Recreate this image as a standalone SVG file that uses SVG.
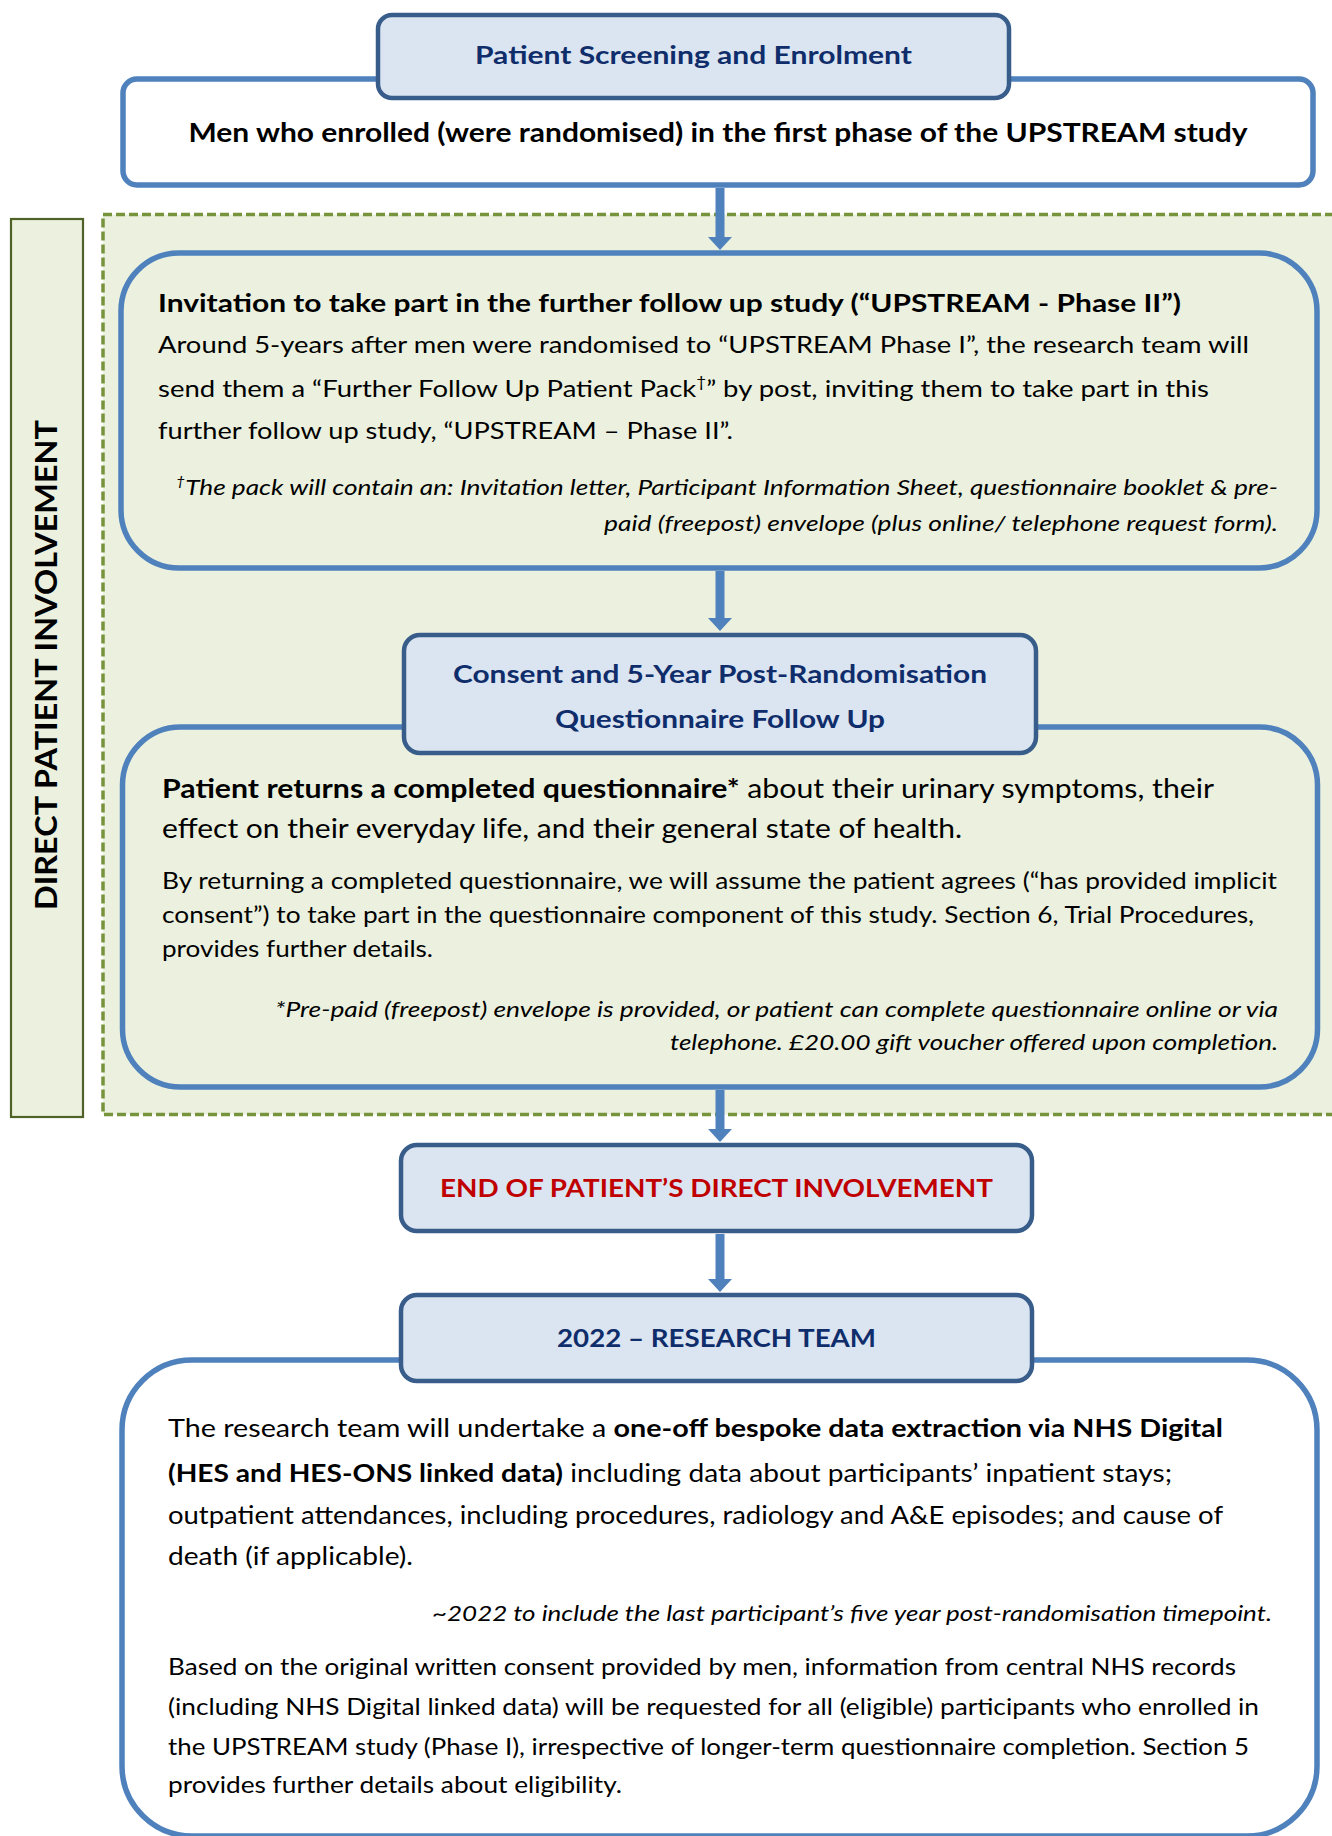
<svg xmlns="http://www.w3.org/2000/svg" width="1332" height="1836" viewBox="0 0 1332 1836">
<defs>
<style>
text{font-family:Lato,"Open Sans","Liberation Sans",sans-serif;fill:#000}
.hdr{fill:#dbe5f1;stroke:#385d8a;stroke-width:4.5}
.main{stroke:#4f81bd;stroke-width:5.5}
.white{fill:#fff}
.green{fill:#ebf1de}
.ht{font-weight:700;fill:#0f2d6b;text-anchor:middle}
.b{font-weight:700}
.it{font-style:italic;text-anchor:end}
.conn{stroke:#4f81bd;stroke-width:9;fill:none}
</style>
<marker id="ah" markerUnits="userSpaceOnUse" viewBox="0 0 13 24" refX="0" refY="12" markerWidth="13" markerHeight="24" orient="auto">
<path d="M0,0 L13,12 L0,24 z" fill="#4f81bd"/>
</marker>
</defs>

<g id="region">
<rect x="103" y="214.5" width="1245" height="900" fill="#ebf1de" stroke="#77933c" stroke-width="3.5" stroke-dasharray="9 4"/>
</g>

<g id="label">
<rect x="11" y="219" width="72" height="898" fill="#ebf1de" stroke="#4f6228" stroke-width="2.2"/>
<text x="57" y="665" transform="rotate(-90 57 665)" text-anchor="middle" font-size="31" font-weight="700" fill="#111" textLength="490" lengthAdjust="spacingAndGlyphs">DIRECT PATIENT INVOLVEMENT</text>
</g>

<g id="enrolment">
<rect class="main white" x="123" y="79" width="1190" height="106" rx="14"/>
<text x="718" y="142" text-anchor="middle" class="b" font-size="26" textLength="1059" lengthAdjust="spacingAndGlyphs">Men who enrolled (were randomised) in the first phase of the UPSTREAM study</text>
<rect class="hdr" x="378" y="15" width="631" height="83" rx="14"/>
<text x="693.5" y="64" class="ht" font-size="24" textLength="437" lengthAdjust="spacingAndGlyphs">Patient Screening and Enrolment</text>
</g>

<g id="invitation">
<rect class="main green" x="121" y="253" width="1196" height="315" rx="58"/>
<text x="158" y="312" class="b" font-size="25" textLength="1023" lengthAdjust="spacingAndGlyphs">Invitation to take part in the further follow up study (“UPSTREAM - Phase II”)</text>
<text x="158" y="353" font-size="24" textLength="1091" lengthAdjust="spacingAndGlyphs">Around 5-years after men were randomised to “UPSTREAM Phase I”, the research team will</text>
<text x="158" y="397" font-size="24" textLength="1051" lengthAdjust="spacingAndGlyphs">send them a “Further Follow Up Patient Pack<tspan font-size="15" dy="-10">†</tspan><tspan dy="10">” by post, inviting them to take part in this</tspan></text>
<text x="158" y="439" font-size="24" textLength="575" lengthAdjust="spacingAndGlyphs">further follow up study, “UPSTREAM – Phase II”.</text>
<text x="1278" y="495" class="it" font-size="21.5" textLength="1102" lengthAdjust="spacingAndGlyphs"><tspan font-size="13" dy="-9">†</tspan><tspan dy="9">The pack will contain an: Invitation letter, Participant Information Sheet, questionnaire booklet &amp; pre-</tspan></text>
<text x="1278" y="531" class="it" font-size="21.5" textLength="674" lengthAdjust="spacingAndGlyphs">paid (freepost) envelope (plus online/ telephone request form).</text>
</g>

<g id="consent">
<rect class="main green" x="122.5" y="727" width="1195" height="360" rx="58"/>
<rect class="hdr" x="404" y="635" width="632" height="118" rx="16"/>
<text x="720" y="683" class="ht" font-size="25" textLength="534" lengthAdjust="spacingAndGlyphs">Consent and 5-Year Post-Randomisation</text>
<text x="720" y="728" class="ht" font-size="25" textLength="330" lengthAdjust="spacingAndGlyphs">Questionnaire Follow Up</text>
<text x="162" y="798" font-size="26" textLength="1052" lengthAdjust="spacingAndGlyphs"><tspan font-weight="700">Patient returns a completed questionnaire*</tspan> about their urinary symptoms, their</text>
<text x="162" y="838" font-size="26" textLength="800" lengthAdjust="spacingAndGlyphs">effect on their everyday life, and their general state of health.</text>
<text x="162" y="889" font-size="22.5" textLength="1115" lengthAdjust="spacingAndGlyphs">By returning a completed questionnaire, we will assume the patient agrees (“has provided implicit</text>
<text x="162" y="923" font-size="22.5" textLength="1092" lengthAdjust="spacingAndGlyphs">consent”) to take part in the questionnaire component of this study. Section 6, Trial Procedures,</text>
<text x="162" y="957" font-size="22.5" textLength="271" lengthAdjust="spacingAndGlyphs">provides further details.</text>
<text x="1278" y="1017" class="it" font-size="21.5" textLength="1003" lengthAdjust="spacingAndGlyphs">*Pre-paid (freepost) envelope is provided, or patient can complete questionnaire online or via</text>
<text x="1278" y="1050" class="it" font-size="21.5" textLength="608" lengthAdjust="spacingAndGlyphs">telephone. £20.00 gift voucher offered upon completion.</text>
</g>

<g id="end">
<rect class="hdr" x="401" y="1145" width="631" height="86" rx="16"/>
<text x="716.5" y="1197" class="ht" style="fill:#c00000" font-size="25" textLength="553" lengthAdjust="spacingAndGlyphs">END OF PATIENT’S DIRECT INVOLVEMENT</text>
</g>

<g id="research">
<rect class="main white" x="122" y="1360" width="1195" height="476" rx="70"/>
<rect class="hdr" x="401" y="1295" width="631" height="86" rx="16"/>
<text x="716.5" y="1347" class="ht" font-size="25" textLength="319" lengthAdjust="spacingAndGlyphs">2022 – RESEARCH TEAM</text>
<text x="168" y="1437" font-size="24.5" textLength="1055" lengthAdjust="spacingAndGlyphs">The research team will undertake a <tspan font-weight="700">one-off bespoke data extraction via NHS Digital</tspan></text>
<text x="168" y="1482" font-size="24.5" textLength="1004" lengthAdjust="spacingAndGlyphs"><tspan font-weight="700">(HES and HES-ONS linked data)</tspan> including data about participants’ inpatient stays;</text>
<text x="168" y="1524" font-size="24.5" textLength="1055" lengthAdjust="spacingAndGlyphs">outpatient attendances, including procedures, radiology and A&amp;E episodes; and cause of</text>
<text x="168" y="1565" font-size="24.5" textLength="245" lengthAdjust="spacingAndGlyphs">death (if applicable).</text>
<text x="1272" y="1621" class="it" font-size="21.5" textLength="840" lengthAdjust="spacingAndGlyphs">~2022 to include the last participant’s five year post-randomisation timepoint.</text>
<text x="168" y="1675" font-size="23" textLength="1068" lengthAdjust="spacingAndGlyphs">Based on the original written consent provided by men, information from central NHS records</text>
<text x="168" y="1715" font-size="23" textLength="1091" lengthAdjust="spacingAndGlyphs">(including NHS Digital linked data) will be requested for all (eligible) participants who enrolled in</text>
<text x="168" y="1755" font-size="23" textLength="1081" lengthAdjust="spacingAndGlyphs">the UPSTREAM study (Phase I), irrespective of longer-term questionnaire completion. Section 5</text>
<text x="168" y="1793" font-size="23" textLength="454" lengthAdjust="spacingAndGlyphs">provides further details about eligibility.</text>
</g>

<g id="connectors">
<path class="conn" d="M720,188 L720,237" marker-end="url(#ah)"/>
<path class="conn" d="M720,571 L720,618" marker-end="url(#ah)"/>
<path class="conn" d="M720,1090 L720,1129" marker-end="url(#ah)"/>
<path class="conn" d="M720,1234 L720,1279" marker-end="url(#ah)"/>
</g>
</svg>
